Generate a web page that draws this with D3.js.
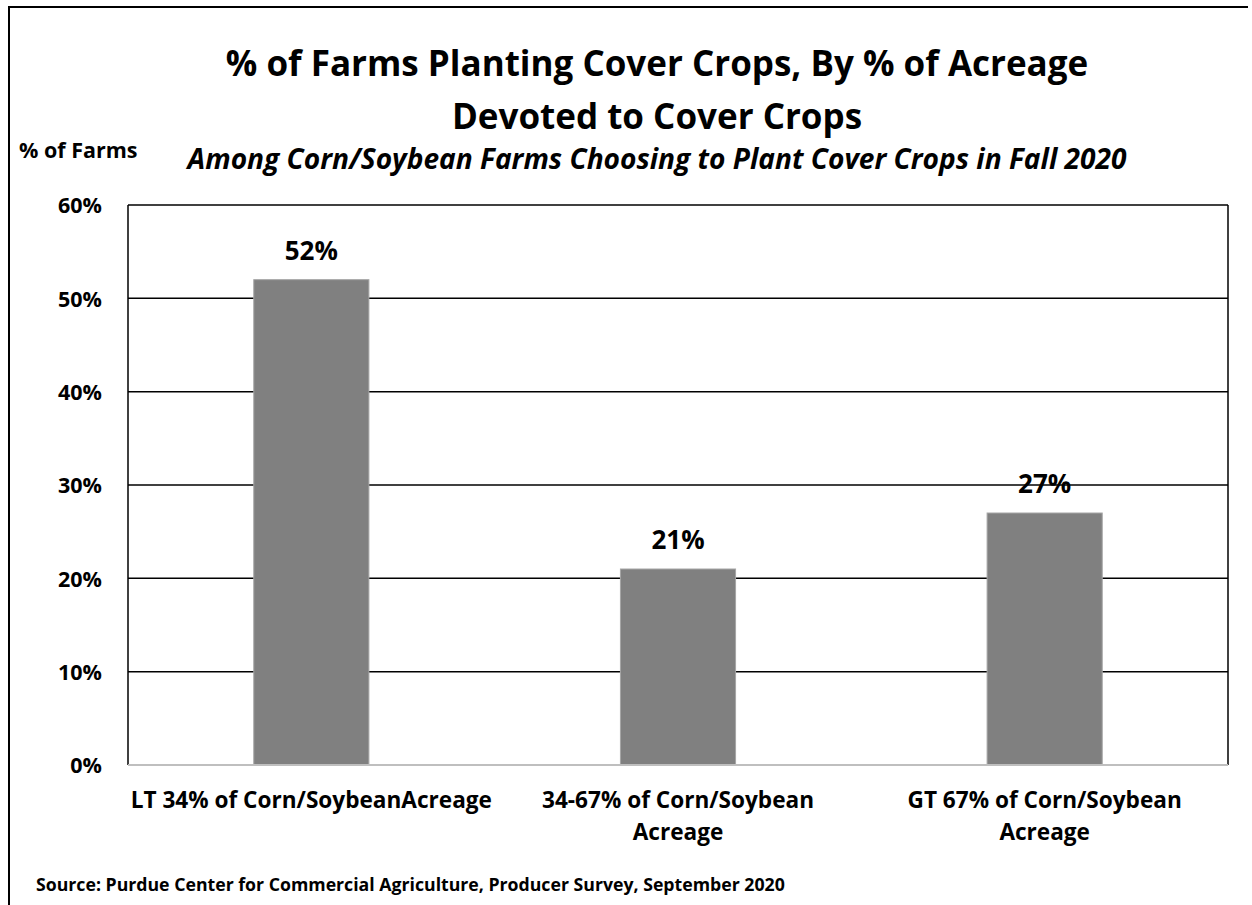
<!DOCTYPE html>
<html>
<head>
<meta charset="utf-8">
<script src="https://cdn.jsdelivr.net/npm/d3@7"></script>
<style>
  html, body { margin: 0; padding: 0; background: #fff; }
  svg { display: block; }
  text { font-family: "Open Sans", Lato, "Liberation Sans", sans-serif; font-weight: bold; fill: #000; }
</style>
</head>
<body>
<svg id="chart" width="1252" height="905"></svg>
<script>
const categories = [
  ["LT 34% of Corn/SoybeanAcreage"],
  ["34-67% of Corn/Soybean", "Acreage"],
  ["GT 67% of Corn/Soybean", "Acreage"]
];
const values = [52, 21, 27];
const yTicks = [0, 10, 20, 30, 40, 50, 60];
const titleLines = ["% of Farms Planting Cover Crops, By % of Acreage", "Devoted to Cover Crops"];
const subtitle = "Among Corn/Soybean Farms Choosing to Plant Cover Crops in Fall 2020";
const yAxisTitle = "% of Farms";
const source = "Source: Purdue Center for Commercial Agriculture, Producer Survey, September 2020";

const svg = d3.select("#chart");
const m = { left: 128, top: 205, right: 1228, bottom: 765 };

// outer frame (left + top)
svg.append("path")
  .attr("d", `M9,905 L9,7 L1248,7`)
  .attr("fill", "none").attr("stroke", "#000").attr("stroke-width", 2);

const x = d3.scaleBand().domain(d3.range(categories.length)).range([m.left, m.right]).padding(0);
const y = d3.scaleLinear().domain([0, 60]).range([m.bottom, m.top]);
const barW = x.bandwidth() * 0.314;

// gridlines
svg.append("g").selectAll("line").data(yTicks.filter(d => d > 0)).join("line")
  .attr("x1", m.left).attr("x2", m.right)
  .attr("y1", d => y(d)).attr("y2", d => y(d))
  .attr("stroke", "#000").attr("stroke-width", 1.5);

// right frame
svg.append("line").attr("x1", m.right).attr("x2", m.right).attr("y1", m.top).attr("y2", m.bottom)
  .attr("stroke", "#000").attr("stroke-width", 1.5);

// bars
svg.append("g").selectAll("rect").data(values).join("rect")
  .attr("x", (d, i) => x(i) + x.bandwidth() / 2 - barW / 2)
  .attr("width", barW)
  .attr("y", d => y(d))
  .attr("height", d => y(0) - y(d))
  .attr("fill", "#808080").attr("stroke", "#a6a6a6").attr("stroke-width", 1);

// left axis line
svg.append("line").attr("x1", m.left).attr("x2", m.left).attr("y1", m.top).attr("y2", m.bottom)
  .attr("stroke", "#000").attr("stroke-width", 1.5);
// bottom axis line
svg.append("line").attr("x1", m.left).attr("x2", m.right).attr("y1", m.bottom).attr("y2", m.bottom)
  .attr("stroke", "#bfbfbf").attr("stroke-width", 2);

// y tick labels
const yAxis = d3.axisLeft(y).tickValues(yTicks).tickFormat(d => d + "%").tickSize(0).tickPadding(0);
const ga = svg.append("g").attr("transform", `translate(102,0)`).call(yAxis);
ga.select(".domain").remove();
ga.selectAll("text").attr("font-size", 21.5).attr("font-family", null).style("font-weight", "bold").attr("fill", "#000").attr("dy", "0.36em");

// value labels
svg.append("g").selectAll("text").data(values).join("text")
  .attr("x", (d, i) => x(i) + x.bandwidth() / 2)
  .attr("y", d => y(d) - 20)
  .attr("text-anchor", "middle").attr("font-size", 26)
  .text(d => d + "%");

// x category labels
const xl = svg.append("g").selectAll("text").data(categories).join("text")
  .attr("x", (d, i) => x(i) + x.bandwidth() / 2)
  .attr("y", 808)
  .attr("text-anchor", "middle").attr("font-size", 22.6);
xl.selectAll("tspan").data(d => d).join("tspan")
  .attr("x", function () { return d3.select(this.parentNode).attr("x"); })
  .attr("dy", (d, i) => i === 0 ? 0 : 32)
  .text(d => d);

// titles
svg.append("g").selectAll("text").data(titleLines).join("text")
  .attr("x", 657).attr("y", (d, i) => 76 + i * 53)
  .attr("text-anchor", "middle").attr("font-size", 35)
  .text(d => d);
svg.append("text").attr("x", 657).attr("y", 169).attr("text-anchor", "middle")
  .attr("font-size", 28.1).attr("font-style", "italic").text(subtitle);
svg.append("text").attr("x", 19).attr("y", 158).attr("font-size", 21.5).text(yAxisTitle);
svg.append("text").attr("x", 36).attr("y", 891).attr("font-size", 17.7).text(source);
</script>
</body>
</html>
